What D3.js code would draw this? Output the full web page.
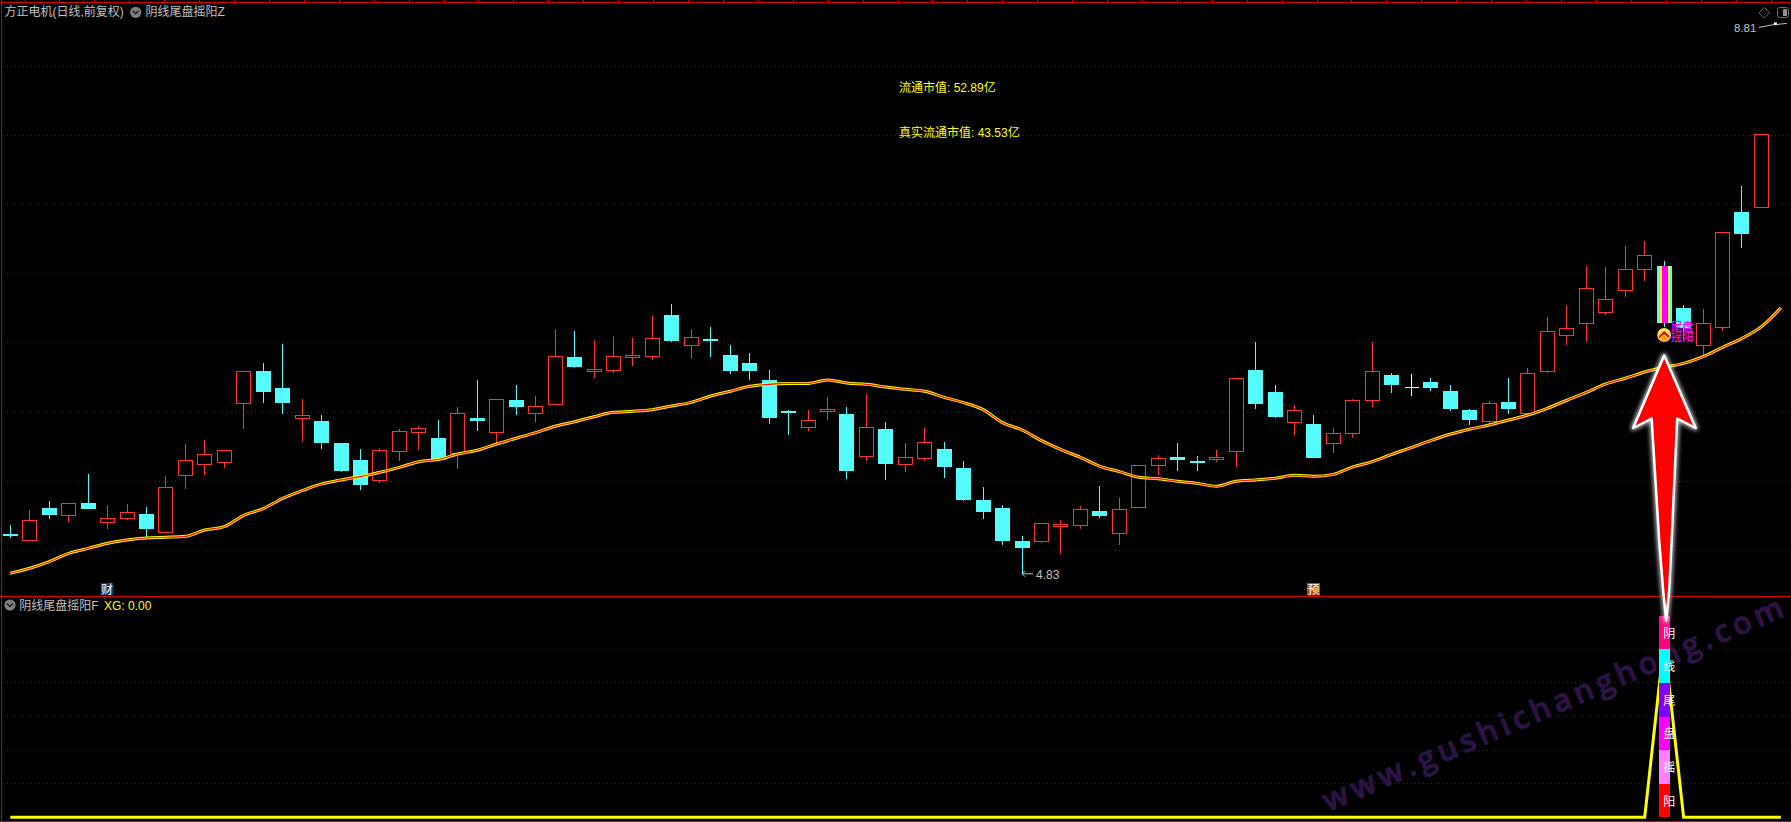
<!DOCTYPE html>
<html><head><meta charset="utf-8">
<script src="https://cdn.jsdelivr.net/npm/d3@7/dist/d3.min.js"></script>
<style>html,body{margin:0;padding:0;background:#000;overflow:hidden}svg{display:block}</style>
</head><body><svg id="c"></svg>
<script>
const opens=[5.118,5.07,5.306,5.251,5.342,5.2,5.229,5.263,5.128,5.54,
5.619,5.634,6.06,6.297,6.174,5.952,5.935,5.776,5.653,5.504,
5.713,5.851,5.812,5.699,5.957,5.851,6.087,5.988,6.053,6.398,
6.292,6.299,6.4,6.4,6.701,6.48,6.528,6.412,6.354,6.232,
6.007,5.887,6.003,5.986,5.677,5.877,5.619,5.663,5.733,5.595,
5.364,5.306,5.067,5.063,5.171,5.178,5.284,5.12,5.308,5.612,
5.675,5.646,5.66,5.713,6.304,6.145,5.923,5.913,5.771,5.844,
6.082,6.268,6.174,6.217,6.152,6.015,5.93,6.072,5.988,6.292,
6.552,6.639,6.718,6.877,7.029,7.056,6.752,6.48,6.61,7.446,7.48];
const closes=[5.106,5.217,5.255,5.34,5.299,5.231,5.275,5.154,5.455,5.651,
5.694,5.723,6.294,6.145,6.065,5.976,5.776,5.574,5.472,5.723,
5.86,5.882,5.653,5.991,5.935,6.092,6.036,6.041,6.403,6.326,
6.304,6.403,6.41,6.533,6.513,6.54,6.513,6.297,6.297,5.957,
5.993,5.94,6.015,5.574,5.889,5.624,5.672,5.781,5.603,5.364,
5.277,5.067,5.017,5.195,5.183,5.296,5.248,5.296,5.615,5.665,
5.653,5.639,5.672,6.244,6.058,5.964,6.012,5.668,5.846,6.085,
6.294,6.195,6.174,6.174,6.022,5.942,6.063,6.022,6.28,6.583,
6.605,6.894,6.815,7.032,7.133,6.653,6.605,6.641,7.299,7.287,8.008];
const highs=[5.183,5.292,5.357,5.34,5.552,5.328,5.335,5.313,5.537,5.769,
5.798,5.723,6.294,6.354,6.492,6.094,5.978,5.776,5.733,5.737,
5.875,5.899,5.942,6.036,6.232,6.092,6.195,6.116,6.6,6.586,
6.518,6.55,6.535,6.694,6.781,6.6,6.615,6.485,6.427,6.304,
6.015,6.015,6.109,6.036,6.13,5.928,5.776,5.884,5.783,5.646,
5.458,5.328,5.104,5.195,5.219,5.321,5.465,5.378,5.615,5.689,
5.776,5.682,5.725,6.244,6.506,6.195,6.051,5.978,5.884,6.094,
6.506,6.282,6.275,6.246,6.195,6.022,6.08,6.246,6.318,6.687,
6.774,7.056,7.049,7.2,7.236,7.092,6.774,6.745,7.299,7.634,8.008];
const lows=[5.092,5.07,5.227,5.205,5.299,5.154,5.219,5.094,5.128,5.443,
5.545,5.595,5.877,6.065,5.986,5.783,5.733,5.566,5.436,5.489,
5.646,5.725,5.653,5.588,5.863,5.769,5.978,5.928,6.053,6.318,
6.246,6.285,6.333,6.376,6.506,6.383,6.398,6.275,6.232,5.913,
5.834,5.863,5.942,5.516,5.646,5.509,5.566,5.646,5.523,5.357,
5.227,5.039,4.83,5.053,4.973,5.154,5.234,5.039,5.308,5.545,
5.574,5.574,5.639,5.603,6.022,5.957,5.834,5.668,5.704,5.812,
6.036,6.138,6.116,6.152,6.007,5.906,5.913,5.986,5.988,6.282,
6.485,6.506,6.701,6.832,6.947,6.615,6.52,6.405,6.586,7.188,7.48];
const ma=[4.834,4.87,4.918,4.978,5.014,5.051,5.075,5.089,5.094,5.101,
5.147,5.171,5.253,5.301,5.376,5.431,5.48,5.509,5.533,5.564,
5.6,5.641,5.656,5.696,5.723,5.769,5.81,5.851,5.897,5.93,
5.966,5.998,6.005,6.017,6.044,6.07,6.116,6.15,6.186,6.2,
6.207,6.207,6.232,6.21,6.2,6.181,6.164,6.15,6.106,6.068,
6.017,5.923,5.87,5.793,5.728,5.672,5.607,5.569,5.528,5.518,
5.499,5.484,5.463,5.499,5.509,5.521,5.542,5.535,5.549,5.603,
5.641,5.694,5.742,5.793,5.839,5.875,5.906,5.942,5.978,6.027,
6.085,6.142,6.203,6.244,6.289,6.323,6.352,6.4,6.468,6.533,6.617,6.754];
const xgSpikeIndex=85, xgSpikeValue=1.05;
const xg=ma.map((_,i)=>i===xgSpikeIndex?xgSpikeValue:0);
const priceTicks=[5,5.5,6,6.5,7,7.5,8,8.5];
const subTicks=[0.2,0.4,0.6,0.8,1.0];
const stackValues=[1.2,1.0,0.8,0.6,0.4,0.2,0];
const stackChars=["阴","线","尾","盘","摇","阳"];
const stackColors=["#ff0080","#00ffff","#8000ff","#ff00ff","#ff80ff","#ff0000"];
const stripeColors=["#54fcfc","#ffff00","#ff00ff","#ffff00","#54fcfc"];
const stripeEdges=[-7.5,-4.5,-2.5,3,5,7.5];
const signals=[{i:5,t:"财",c:"#0a3a6e"},{i:67,t:"预",c:"#b04a10"}];
const titleMain="方正电机(日线,前复权)", indMain="阴线尾盘摇阳Z", indSub="阴线尾盘摇阳F", xgLabel="XG: 0.00";
const capLines=["流通市值: 52.89亿","真实流通市值: 43.53亿"];
const lowLabel="4.83", highLabel="8.81", lowValue=4.83, highValue=8.81;
const watermark="www.gushichanghong.com";

const W=1791,H=822;
const svg=d3.select("#c").attr("width",W).attr("height",H).style("background","#000");
const x=d3.scaleLinear().domain([0,91]).range([10.3,1780.9]);
const y=d3.scaleLinear().domain([5,8.5]).range([550.3,66.3]);
const ys=d3.scaleLinear().domain([0,1]).range([817.3,649.3]);
const FONT="'Liberation Sans','Noto Sans CJK SC',sans-serif";
const GRID="#a00000",FRAME="#d40000",RED="#ff3232",CYAN="#54fcfc",GRAY="#c0c0c0";
const px=v=>Math.floor(v)+0.5;

const defs=svg.append("defs");
const glow=defs.append("filter").attr("id","glow").attr("x","-30%").attr("y","-10%").attr("width","160%").attr("height","120%");
glow.append("feGaussianBlur").attr("stdDeviation",2.2);
const rg=defs.append("radialGradient").attr("id","gold").attr("cx","50%").attr("cy","70%").attr("r","60%");
rg.append("stop").attr("offset","0%").attr("stop-color","#ff8a10");
rg.append("stop").attr("offset","100%").attr("stop-color","#ffe060");

// grid
const grid=svg.append("g").attr("stroke",GRID).attr("stroke-width",1).attr("stroke-dasharray","1,3").attr("shape-rendering","crispEdges");
grid.selectAll("line.p").data(priceTicks).join("line").attr("class","p")
  .attr("x1",3).attr("x2",W).attr("y1",d=>Math.floor(y(d))+0.5).attr("y2",d=>Math.floor(y(d))+0.5);
grid.selectAll("line.s").data(subTicks).join("line").attr("class","s")
  .attr("x1",3).attr("x2",W).attr("y1",d=>Math.floor(ys(d))+0.5).attr("y2",d=>Math.floor(ys(d))+0.5);

// watermark
svg.append("text").text(watermark)
  .attr("transform","translate(1328,812) rotate(-23.2)")
  .attr("font-family","'Open Sans',sans-serif").attr("font-weight",600).attr("font-size",31)
  .attr("textLength",498).attr("lengthAdjust","spacing")
  .attr("fill","#3a0e40").attr("stroke","#1e1a4a").attr("stroke-width",1);

// frame
const frame=svg.append("g").attr("stroke",FRAME).attr("shape-rendering","crispEdges");
frame.append("line").attr("x1",1.5).attr("x2",1.5).attr("y1",0).attr("y2",H).attr("stroke-width",1);
frame.append("line").attr("x1",0).attr("x2",W).attr("y1",2.5).attr("y2",2.5).attr("stroke-width",1);
frame.append("line").attr("x1",0).attr("x2",W).attr("y1",596.5).attr("y2",596.5).attr("stroke-width",1);
frame.append("line").attr("x1",0).attr("x2",W).attr("y1",821.5).attr("y2",821.5).attr("stroke-width",1);
frame.selectAll("line.t").data(d3.range(0,51)).join("line").attr("class","t")
  .attr("x1",d=>px(25+d*34.92)).attr("x2",d=>px(25+d*34.92)).attr("y1",0).attr("y2",2);

// candles
const bars=opens.map((o,i)=>({i,o,c:closes[i],h:highs[i],l:lows[i]}));
const colorOf=d=>d.c>d.o?RED:(d.c<d.o?CYAN:"#ffffff");
const cg=svg.append("g").attr("shape-rendering","crispEdges");
const candle=cg.selectAll("g").data(bars).join("g");
candle.append("line").attr("stroke",colorOf).attr("x1",d=>px(x(d.i))).attr("x2",d=>px(x(d.i)))
  .attr("y1",d=>y(d.h)).attr("y2",d=>y(Math.max(d.o,d.c)));
candle.append("line").attr("stroke",colorOf).attr("x1",d=>px(x(d.i))).attr("x2",d=>px(x(d.i)))
  .attr("y1",d=>y(Math.min(d.o,d.c))).attr("y2",d=>y(d.l));
candle.filter(d=>d.c>d.o).append("rect").attr("fill","#000").attr("stroke",RED)
  .attr("x",d=>px(x(d.i))-7).attr("width",14)
  .attr("y",d=>px(y(d.c))).attr("height",d=>Math.max(2,Math.round(y(d.o)-y(d.c))));
candle.filter(d=>d.c<d.o).append("rect").attr("fill",CYAN)
  .attr("x",d=>Math.floor(x(d.i))-7).attr("width",15)
  .attr("y",d=>Math.round(y(d.o))).attr("height",d=>Math.max(2,Math.round(y(d.c)-y(d.o))));
candle.filter(d=>d.c===d.o).append("line").attr("stroke","#fff")
  .attr("x1",d=>px(x(d.i))-7).attr("x2",d=>px(x(d.i))+7).attr("y1",d=>px(y(d.c))).attr("y2",d=>px(y(d.c)));

// highlighted candle
const sp=bars[xgSpikeIndex];
svg.append("g").attr("shape-rendering","crispEdges").selectAll("rect").data(stripeColors).join("rect")
  .attr("x",(d,i)=>Math.floor(x(sp.i))+stripeEdges[i]+0.5).attr("width",(d,i)=>stripeEdges[i+1]-stripeEdges[i])
  .attr("y",y(sp.o)).attr("height",y(sp.c)-y(sp.o)+1).attr("fill",d=>d);

// MA
const maLine=d3.line().x((d,i)=>x(i)).y(d=>y(d)).curve(d3.curveMonotoneX);
svg.append("path").datum(ma).attr("d",maLine).attr("fill","none").attr("stroke","#ffff00").attr("stroke-width",3);
svg.append("path").datum(ma).attr("d",maLine).attr("fill","none").attr("stroke","#f01010").attr("stroke-width",1.1);

// magenta signal text + icon
const sx=x(sp.i);
const ic=svg.append("g").attr("transform",`translate(${sx},${y(sp.l)+8})`);
ic.append("circle").attr("r",7).attr("fill","url(#gold)");
ic.append("path").attr("d","M-5,1 L0,-4 L5,1 L5,3 L0,-1 L-5,3Z").attr("fill","#b01818");
svg.append("g").attr("fill","#ff00ff").attr("font-family","'Noto Sans CJK SC',sans-serif").attr("font-size",11.5).attr("font-weight",500)
  .selectAll("text").data(["尾盘","摇阳"]).join("text").attr("x",sx+6.5).attr("y",(d,i)=>y(sp.l)+4+i*10.5).text(d=>d);

// low/high labels
const lowIdx=lows.indexOf(d3.min(lows));
const lg=svg.append("g").attr("font-family",FONT).attr("font-size",12).attr("fill",GRAY);
lg.append("path").attr("d",`M${x(lowIdx)+11},${y(lowValue)}H${x(lowIdx)}m3,-3l-3,3l3,3`).attr("fill","none").attr("stroke",GRAY);
lg.append("text").attr("x",x(lowIdx)+14).attr("y",y(lowValue)+5).text(lowLabel);
const hiX=x(91);
lg.append("text").attr("x",hiX-47).attr("y",y(highValue)+9).attr("font-size",11.5).text(highLabel);
lg.append("path").attr("d",`M${hiX-22},${y(highValue)+4}L${hiX-9},${y(highValue)+1.5}L${hiX+6},${y(highValue)}`).attr("fill","none").attr("stroke",GRAY);
lg.append("rect").attr("x",hiX-7).attr("y",y(highValue)-1).attr("width",3).attr("height",2.5).attr("fill","#fff");

// corner icons
const ci=svg.append("g").attr("fill","none").attr("stroke","#707070");
ci.append("path").attr("d","M1764.3,7.5l5.3,5.3l-5.3,5.3l-5.3,-5.3Z");
ci.append("rect").attr("x",1777.5).attr("y",7.5).attr("width",11).attr("height",10).attr("rx",2);
ci.append("rect").attr("x",1783).attr("y",9).attr("width",4).attr("height",7).attr("fill","#909090").attr("stroke","none");

// caps
svg.append("g").attr("fill","#ffff00").attr("font-family",FONT).attr("font-size",12)
  .selectAll("text").data(capLines).join("text").attr("x",899).attr("y",(d,i)=>91.8+i*45).text(d=>d);

// title
function chevron(cx,cy){
  const g=svg.append("g").attr("transform",`translate(${cx},${cy})`);
  g.append("circle").attr("r",5.6).attr("fill","#808080");
  g.append("path").attr("d","M-3,-1.5L0,1.5L3,-1.5").attr("fill","none").attr("stroke","#222").attr("stroke-width",1.5);
}
const tg=svg.append("g").attr("font-family",FONT).attr("font-size",12).attr("fill",GRAY);
tg.append("text").attr("x",4.5).attr("y",15.8).text(titleMain);
chevron(135.7,12.3);
tg.append("text").attr("x",145.5).attr("y",15.8).text(indMain);
chevron(10,605);
tg.append("text").attr("x",19.3).attr("y",610).text(indSub);
tg.append("text").attr("x",104).attr("y",610).attr("fill","#ffff00").text(xgLabel);

// signal tags
const sg=svg.append("g").selectAll("g").data(signals).join("g").attr("transform",d=>`translate(${x(d.i)},0)`);
sg.append("rect").attr("x",-7).attr("y",583).attr("width",13).attr("height",12.5).attr("fill",d=>d.c);
sg.append("text").attr("x",-0.5).attr("y",594).attr("text-anchor","middle").attr("fill","#fff")
  .attr("font-family","'Noto Sans CJK SC',sans-serif").attr("font-size",12).text(d=>d.t);

// sub-pane line
svg.append("path").datum(xg).attr("d",d3.line().x((d,i)=>x(i)).y(d=>ys(d))).attr("fill","none")
  .attr("stroke","#ffff00").attr("stroke-width",3).attr("stroke-linejoin","miter");

// stack
const st=svg.append("g");
st.selectAll("rect").data(stackChars).join("rect").attr("shape-rendering","crispEdges")
  .attr("x",Math.floor(sx)-5).attr("width",11)
  .attr("y",(d,i)=>ys(stackValues[i])).attr("height",(d,i)=>ys(stackValues[i+1])-ys(stackValues[i]))
  .attr("fill",(d,i)=>stackColors[i]);
st.selectAll("text").data(stackChars).join("text").text(d=>d)
  .attr("x",sx+5).attr("y",(d,i)=>(ys(stackValues[i])+ys(stackValues[i+1]))/2+5)
  .attr("text-anchor","middle").attr("fill","#fff")
  .attr("font-family","'Noto Sans CJK SC',sans-serif").attr("font-size",12);

// arrow
const arrowShape=[[0,355.5],[31.5,428],[13,418.5],[7.5,540],[5,590],[2,620.5],[-1,590],[-5,540],[-12.5,418.5],[-31,428]];
const arrowPts=arrowShape.map(p=>[sx+p[0],p[1]].join(",")).join(" ");
svg.append("polygon").attr("points",arrowPts).attr("fill","none").attr("stroke","#fff").attr("stroke-width",5).attr("stroke-linejoin","round").attr("filter","url(#glow)").attr("opacity",.75);
svg.append("polygon").attr("points",arrowPts).attr("fill","#ff0000").attr("stroke","#fff").attr("stroke-width",2.5).attr("stroke-linejoin","round");
</script></body></html>
